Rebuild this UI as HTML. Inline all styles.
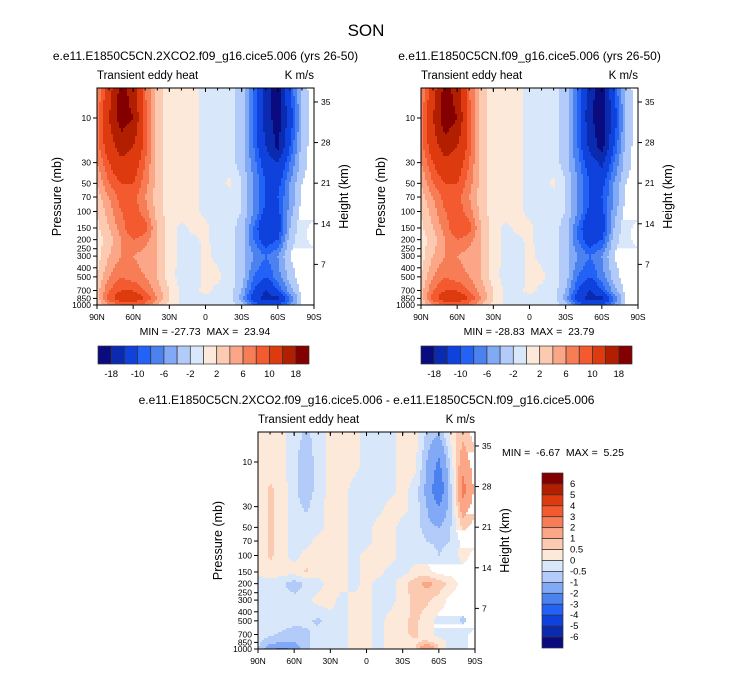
<!DOCTYPE html>
<html><head><meta charset="utf-8"><style>
body{margin:0;background:#fff;}
svg{display:block;font-family:"Liberation Sans",Arial,sans-serif;}
text{white-space:pre;}
</style></head><body>
<svg id="root" width="733" height="673" viewBox="0 0 733 673" xmlns="http://www.w3.org/2000/svg">
<rect width="733" height="673" fill="#fff"/>
<text x="366" y="36" font-size="17" text-anchor="middle">SON</text>
</svg>
<script>
// ---- data ----
const lats = [90,80,70,60,50,40,30,20,10,0,-10,-20,-30,-40,-50,-60,-70,-80,-90];
const pres = [5,10,20,30,50,70,100,150,200,300,500,700,850,1000];
const levelsTop = [-18,-14,-10,-8,-6,-4,-2,0,2,4,6,8,10,14,18];
const levelLabelsTop = ["-18","","-10","","-6","","-2","","2","","6","","10","","18"];
const levelsDiff = [-6,-5,-4,-3,-2,-1,-0.5,0,0.5,1,2,3,4,5,6];
const levelLabelsDiff = ["-6","-5","-4","-3","-2","-1","-0.5","0","0.5","1","2","3","4","5","6"];
const palette = ["#0b0b80","#0a2bb0","#0f42dc","#2262f6","#4b82f0","#82a9f5","#b2cbf8","#d9e7fb","#fde9da","#fcc9b1","#fba686","#f77d57","#f45a2f","#dd3a0f","#b21f00","#840000"];
const yTickP = [10,30,50,70,100,150,200,250,300,400,500,700,850,1000];
const yTickKm = [35,28,21,14,7];
const xTickLabels = ["90N","60N","30N","0","30S","60S","90S"];
const xTickLats = [90,60,30,0,-30,-60,-90];

const field1 = [
[6,12,20,16,8,3,1,1,0.5,-0.5,-1,-1,-3,-8,-16,-20,-10,-3,-1],
[7,14,20,18,9,3,1,1,0.5,-0.5,-1,-1,-3,-8,-16,-20,-12,-4,-1],
[7,12,16,14,9,3,1,1,0.5,-0.5,-1,-1,-3,-8,-14,-19,-10,-3,-1],
[6,10,13,12,8,3,1,1,0.5,-0.5,-1,-1,-3,-7,-12,-14,-8,-3,-1],
[4,8,10,10,7,3,1,1,0.5,-0.5,-1,0.5,-2,-6,-10,-11,-6,-2,-0.5],
[3,6,9,9,6,3,1,1,0.5,-0.5,-1,-1,-2,-6,-10,-10,-6,-2,-0.5],
[2,5,8,9,7,3,1,1,0.5,-0.5,-1,-1,-2,-6,-11,-11,-5,-1,-0.5],
[1.5,4,7,10,9,4,1,-0.5,0.5,0.5,-1,-1,-3,-8,-14,-12,-4,-0.5,0.5],
[1,3,6,8,7,4,1,-0.5,-0.5,0.5,-1,-1,-3,-8,-12,-10,-3,-0.5,0.5],
[1,4,6,6,5,4,1,-0.5,-1,0.5,-0.5,-1,-3,-6,-8,-6,-2,-0.5,-0.5],
[2,6,8,7,6,4,1,-1,-1,0.5,0.5,-1,-3,-8,-10,-7,-3,-1,-0.5],
[3,8,10,10,8,5,2,-0.5,-0.5,0.5,-0.5,-1,-4,-10,-14,-10,-5,-1,-0.5],
[3,9,12,12,10,6,2,-0.5,-0.5,-0.5,-0.5,-1,-5,-12,-16,-15,-8,-2,-0.5],
[2,6,8,8,7,4,1,-0.5,-0.5,-0.5,-0.5,-1,-3,-8,-10,-10,-6,-2,0]];
const field2 = [
[6,12,20,16,8,3,1,1,0.5,-0.5,-1,-1,-3,-8,-16,-21,-10,-3,-1],
[7,14,21,18,9,3,1,1,0.5,-0.5,-1,-1,-3,-8,-17,-21,-12,-4,-1],
[7,12,16,14,9,3,1,1,0.5,-0.5,-1,-1,-3,-8,-15,-20,-10,-3,-1],
[6,10,13,12,8,3,1,1,0.5,-0.5,-1,-1,-3,-7,-12,-15,-8,-3,-1],
[4,8,10,10,7,3,1,1,0.5,-0.5,-1,0.5,-2,-6,-10,-11,-6,-2,-0.5],
[3,6,9,9,6,3,1,1,0.5,-0.5,-1,-1,-2,-6,-10,-10,-6,-2,-0.5],
[2,5,8,9,7,3,1,1,0.5,-0.5,-1,-1,-2,-6,-11,-11,-5,-1,-0.5],
[1.5,4,7,10,9,4,1,-0.5,0.5,0.5,-1,-1,-3,-8,-14,-12,-4,-0.5,0.5],
[1,3,6,8,7,4,1,-0.5,-0.5,0.5,-1,-1,-3,-8,-12,-10,-3,-0.5,0.5],
[1,4,6,6,5,4,1,-0.5,-1,0.5,-0.5,-1,-3,-6,-8,-6,-2,-0.5,-0.5],
[2,6,8,7,6,4,1,-1,-1,0.5,0.5,-1,-3,-8,-10,-7,-3,-1,-0.5],
[3,8,10,10,8,5,2,-0.5,-0.5,0.5,-0.5,-1,-4,-10,-14,-10,-5,-1,-0.5],
[3,9,12,12,10,6,2,-0.5,-0.5,-0.5,-0.5,-1,-5,-12,-16,-15,-8,-2,-0.5],
[2,6,8,8,7,4,1,-0.5,-0.5,-0.5,-0.5,-1,-3,-8,-10,-10,-6,-2,0]];
const fieldDiff = [
[0.1,0.2,0.2,-0.3,-0.6,-0.3,0.2,0.2,0.2,-0.2,-0.2,-0.2,0.2,0.2,-0.6,-1,0.2,0.8,0.3],
[0.1,0.2,0.2,-0.4,-0.8,-0.3,0.2,0.2,0.2,-0.2,-0.2,-0.2,0.2,0.2,-1,-2.2,-0.3,1.5,0.6],
[0.1,0.6,0.3,-0.4,-0.8,-0.3,0.2,0.2,-0.2,-0.2,-0.2,-0.2,0.2,-0.2,-1.2,-3,-0.6,2.5,0.8],
[0.1,0.6,0.3,-0.3,-0.6,-0.2,0.2,0.2,-0.2,-0.2,-0.2,0.2,0.2,-0.2,-1,-2,-0.6,1.5,0.6],
[0.1,0.6,0.2,-0.2,-0.3,-0.2,0.2,0.2,-0.2,-0.2,0.2,0.2,-0.2,-0.2,-0.8,-1,-0.5,0.6,0.3],
[0.1,0.6,0.2,-0.2,-0.2,0.2,0.2,0.2,-0.2,-0.2,0.2,0.2,-0.2,-0.2,-0.5,-0.6,-0.5,0.2,0.2],
[0.1,0.6,0.2,-0.2,0.2,0.2,0.2,0.2,-0.2,0.2,0.2,0.2,-0.2,-0.2,-0.2,-0.5,-0.3,0.2,-0.2],
[0.1,0.3,0.2,0.2,0.6,0.2,0.2,0.2,-0.2,0.2,0.2,-0.2,-0.2,0.2,0.2,-0.2,-0.2,-0.2,-0.2],
[-0.2,-0.2,-0.4,-0.8,-0.4,-0.2,0.2,0.2,-0.2,0.2,-0.2,-0.2,0.3,0.8,1.2,0.8,0.3,-0.2,-0.2],
[-0.2,-0.2,-0.3,-0.3,-0.2,0.2,0.2,-0.2,0.2,0.2,-0.2,-0.2,0.3,0.6,0.6,0.3,-0.2,-0.2,-0.2],
[-0.3,-0.2,-0.2,-0.3,-0.4,-0.6,-0.2,-0.2,0.2,0.2,-0.2,0.2,0.4,0.6,0.3,-0.2,-0.3,-0.6,-0.2],
[-0.3,-0.4,-0.6,-0.8,-0.6,-0.3,-0.2,-0.2,0.2,0.2,-0.2,0.2,0.4,0.6,0.3,-0.2,-0.2,-0.2,0.2],
[-0.4,-0.8,-1,-1,-0.6,-0.3,-0.2,-0.2,0.2,0.2,-0.2,0.2,0.3,0.4,0.6,0.3,-0.2,-0.2,0.2],
[-0.5,-1.5,-2.5,-1.5,-0.6,-0.3,-0.2,-0.2,0.2,0.2,-0.2,0.2,0.3,0.4,2,0.6,-0.5,-0.2,0.2]];

// ---- drawing ----
const NS="http://www.w3.org/2000/svg";
const root=document.getElementById('root');
function mk(tag,attrs,parent){const e=document.createElementNS(NS,tag);for(const k in attrs)e.setAttribute(k,attrs[k]);(parent||root).appendChild(e);return e;}
const W=217,H=217;
function xScale(lat){return (90-lat)/180*W;}
function yScale(p){return 30+(Math.log10(p)-1)*93.5;}
function kmY(km){return yScale(1000*Math.exp(-km/7));}
function levelIndex(v,levels){let i=0;while(i<levels.length&&v>=levels[i])i++;return i;}
function sample(field,lat,p){
  let fx=(90-lat)/10; fx=Math.max(0,Math.min(18,fx));
  const lp=Math.log10(Math.max(5,Math.min(1000,p)));
  let r=0; while(r<pres.length-2&&Math.log10(pres[r+1])<lp)r++;
  const l0=Math.log10(pres[r]),l1=Math.log10(pres[r+1]);
  let ty=(lp-l0)/(l1-l0); ty=Math.max(0,Math.min(1,ty));
  const c=Math.min(17,Math.floor(fx)),tx=fx-c;
  const a=field[r][c]*(1-tx)+field[r][c+1]*tx;
  const b=field[r+1][c]*(1-tx)+field[r+1][c+1]*tx;
  return a*(1-ty)+b*ty;
}
function txt(x,y,s,size,anchor,parent,name){const t=mk('text',{x:x,y:y,'font-size':size,'text-anchor':anchor||'start'},parent);t.textContent=s;


return t;}

function panel(ox,oy,field,levels,title,name){
  const g=mk('g',{transform:`translate(${ox},${oy})`});
  
  
  const step=2;
  for(let py=0;py<H;py+=step){
    const yc=py+step/2;
    const p=Math.pow(10,1+(yc-30)/93.5);
    let runStart=0,runIdx=-1;
    for(let px=0;px<=W;px+=step){
      let idx=-2;
      if(px<W){const lat=90-(px+step/2)/W*180;idx=levelIndex(sample(field,lat,p),levels);}
      if(idx!==runIdx){
        if(runIdx>=0){const r=mk('rect',{x:runStart,y:py,width:Math.min(px,W)-runStart,height:Math.min(step,H-py)+0.3,fill:palette[runIdx]},g);
          
          }
        runStart=px;runIdx=idx;
      }
    }
  }
  const fr=mk('rect',{x:0,y:0,width:W,height:H,fill:'none',stroke:'#000','stroke-width':1},g);
  
  
  yTickP.forEach(p=>{const y=yScale(p);mk('line',{x1:-4,x2:0,y1:y,y2:y,stroke:'#000'},g);
    txt(-6,y+3,String(p),8.5,'end',g,'y-tick-label');});
  yTickKm.forEach(k=>{const y=kmY(k);mk('line',{x1:W,x2:W+4,y1:y,y2:y,stroke:'#000'},g);
    txt(W+7,y+3,String(k),8.5,'start',g,'y2-tick-label');});
  xTickLats.forEach((lat,i)=>{const x=xScale(lat);mk('line',{x1:x,x2:x,y1:H,y2:H+4,stroke:'#000'},g);
    mk('line',{x1:x,x2:x,y1:0,y2:4,stroke:'#000'},g);
    txt(x,H+15,xTickLabels[i],8.5,'middle',g,'x-tick-label');});
  for(let lat=80;lat>-90;lat-=10){const x=xScale(lat);mk('line',{x1:x,x2:x,y1:0,y2:2.5,stroke:'#000'},g);}
  txt(0,-9,'Transient eddy heat',11.5,'start',g,'subtitle');
  txt(W,-9,'K m/s',11.5,'end',g,'units-label');
  const yl=txt(0,0,'Pressure (mb)',12.5,'middle',g,'y-axis-title');yl.setAttribute('transform',`translate(-36,${H/2}) rotate(-90)`);
  const yr=txt(0,0,'Height (km)',12.5,'middle',g,'y2-axis-title');yr.setAttribute('transform',`translate(${W+34},${H/2}) rotate(-90)`);
  txt(W/2,-28,title,12,'middle',g,'panel-title');
  return g;
}
function hbar(x,y,w,h,name){
  const g=mk('g',{});
  
  
  const n=levelsTop.length+1,bw=w/n;
  for(let i=0;i<n;i++){const r=mk('rect',{x:x+i*bw,y:y,width:bw,height:h,fill:palette[i],stroke:'#333','stroke-width':0.7},g);
    
    }
  levelLabelsTop.forEach((s,i)=>{if(s)txt(x+(i+1)*bw,y+h+13,s,9.5,'middle',g,'colorbar-label');});
}
function vbar(x,y,w,h,name){
  const g=mk('g',{});
  
  
  const n=levelsDiff.length+1,bh=h/n;
  for(let i=0;i<n;i++){const r=mk('rect',{x:x,y:y+i*bh,width:w,height:bh,fill:palette[n-1-i],stroke:'#333','stroke-width':0.7},g);
    
    }
  levelLabelsDiff.slice().reverse().forEach((s,i)=>{txt(x+w+7,y+(i+1)*bh+3,s,9.5,'start',g,'colorbar-label');});
}
panel(97,88,field1,levelsTop,'e.e11.E1850C5CN.2XCO2.f09_g16.cice5.006 (yrs 26-50)','panel-2xco2');
panel(421,88,field2,levelsTop,'e.e11.E1850C5CN.f09_g16.cice5.006 (yrs 26-50)','panel-control');
panel(258,432,fieldDiff,levelsDiff,'e.e11.E1850C5CN.2XCO2.f09_g16.cice5.006 - e.e11.E1850C5CN.f09_g16.cice5.006','panel-difference');
txt(205,335,'MIN = -27.73  MAX =  23.94',10.5,'middle',root,'minmax-label-1');
txt(529,335,'MIN = -28.83  MAX =  23.79',10.5,'middle',root,'minmax-label-2');
txt(502,456,'MIN =  -6.67  MAX =  5.25',10.5,'start',root,'minmax-label-diff');
hbar(98,346,211,18,'colorbar-1');
hbar(421,346,211,18,'colorbar-2');
vbar(542,473,21,175,'colorbar-diff');
</script>
</body></html>
